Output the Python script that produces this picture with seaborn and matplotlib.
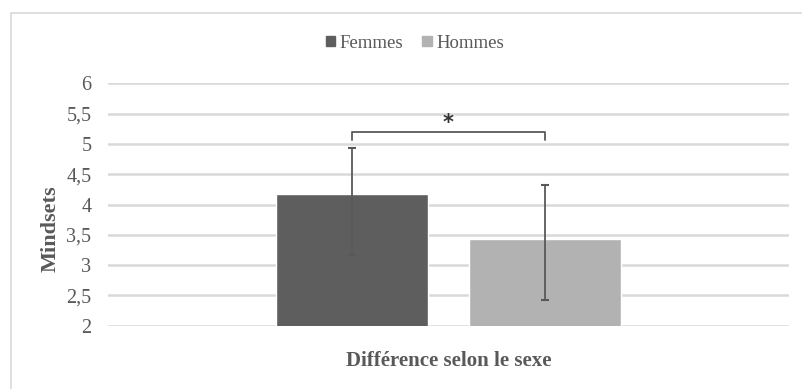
import matplotlib
matplotlib.use("Agg")
import matplotlib.pyplot as plt
from matplotlib.patches import Rectangle
import pandas as pd
import seaborn as sns

# Data
groupe = ["Différence selon le sexe"]
sexes = ["Femmes", "Hommes"]
moyennes = [4.17, 3.43]
err_bas = [3.17, 2.42]   # lower end of each error bar
err_haut = [4.94, 4.33]  # upper end of each error bar
y_ticks = [2, 2.5, 3, 3.5, 4, 4.5, 5, 5.5, 6]
y_tick_labels = ["2", "2,5", "3", "3,5", "4", "4,5", "5", "5,5", "6"]
signif = "*"

couleurs = ["#5e5e5e", "#b2b2b2"]
gris_texte = "#595959"

sns.set_theme(style="white")
plt.rcParams["font.family"] = ["Liberation Serif", "DejaVu Serif"]

df = pd.DataFrame({"groupe": groupe * len(sexes), "sexe": sexes, "moyenne": moyennes})

fig = plt.figure(figsize=(8.02, 3.89), dpi=100)
fig.patch.set_facecolor("white")
ax = fig.add_axes([108 / 802, 1 - 325.7 / 389, (789 - 108) / 802, (325.7 - 83.3) / 389])

sns.barplot(data=df, x="groupe", y="moyenne", hue="sexe", palette=couleurs,
            width=0.568, gap=0.214, errorbar=None, saturation=1, ax=ax,
            legend=False, zorder=2)

# Horizontal grid
ax.set_ylim(2, 6)
ax.set_xlim(-0.5, 0.5)
ax.set_yticks(y_ticks)
ax.set_yticklabels(y_tick_labels)
for y in y_ticks:
    ax.axhline(y, color="#d9d9d9", lw=1.8, zorder=0)
for s in ax.spines.values():
    s.set_visible(False)
ax.tick_params(axis="y", length=0, pad=12, labelsize=14.5, labelcolor=gris_texte)
ax.tick_params(axis="x", length=0, pad=18, labelsize=15, labelcolor=gris_texte)
for t in ax.get_xticklabels():
    t.set_fontweight("bold")
ax.set_xlabel("")
ax.set_ylabel("Mindsets", fontsize=16, fontweight="bold", color=gris_texte)
ax.yaxis.set_label_coords(-0.070, 0.40)

# Error bars at bar centres
centres = []
for cont in ax.containers:
    for bar in cont:
        centres.append(bar.get_x() + bar.get_width() / 2)
for xc, m, lo, hi in zip(centres, moyennes, err_bas, err_haut):
    ax.errorbar(xc, m, yerr=[[m - lo], [hi - m]], fmt="none", ecolor=gris_texte,
                elinewidth=1.3, capsize=3, capthick=1.5, zorder=3)

# Significance bracket
y_b, y_leg = 5.20, 5.06
ax.plot([centres[0], centres[0], centres[1], centres[1]], [y_leg, y_b, y_b, y_leg],
        color=gris_texte, lw=1.3, zorder=3, solid_joinstyle="round")
ax.text((centres[0] + centres[1]) / 2, 5.34, signif, ha="center", va="center",
        fontsize=15, fontweight="bold", color="#333333", family="DejaVu Sans")

# Legend
handles = [Rectangle((0, 0), 1, 1, color=c) for c in couleurs]
leg = fig.legend(handles, sexes, loc="center", bbox_to_anchor=(415 / 802, 1 - 43 / 389),
                 ncol=2, frameon=False, fontsize=13.5, handlelength=0.5, handleheight=0.5,
                 handletextpad=0.25, columnspacing=1.0)
for t in leg.get_texts():
    t.set_color(gris_texte)

# Chart border
fig.patches.append(Rectangle((10.5 / 802, -0.2), 1.2, 1 - 12.5 / 389 + 0.2,
                             transform=fig.transFigure, fill=False,
                             edgecolor="#d9d9d9", lw=1.2))

fig.savefig("out.png", dpi=100)
